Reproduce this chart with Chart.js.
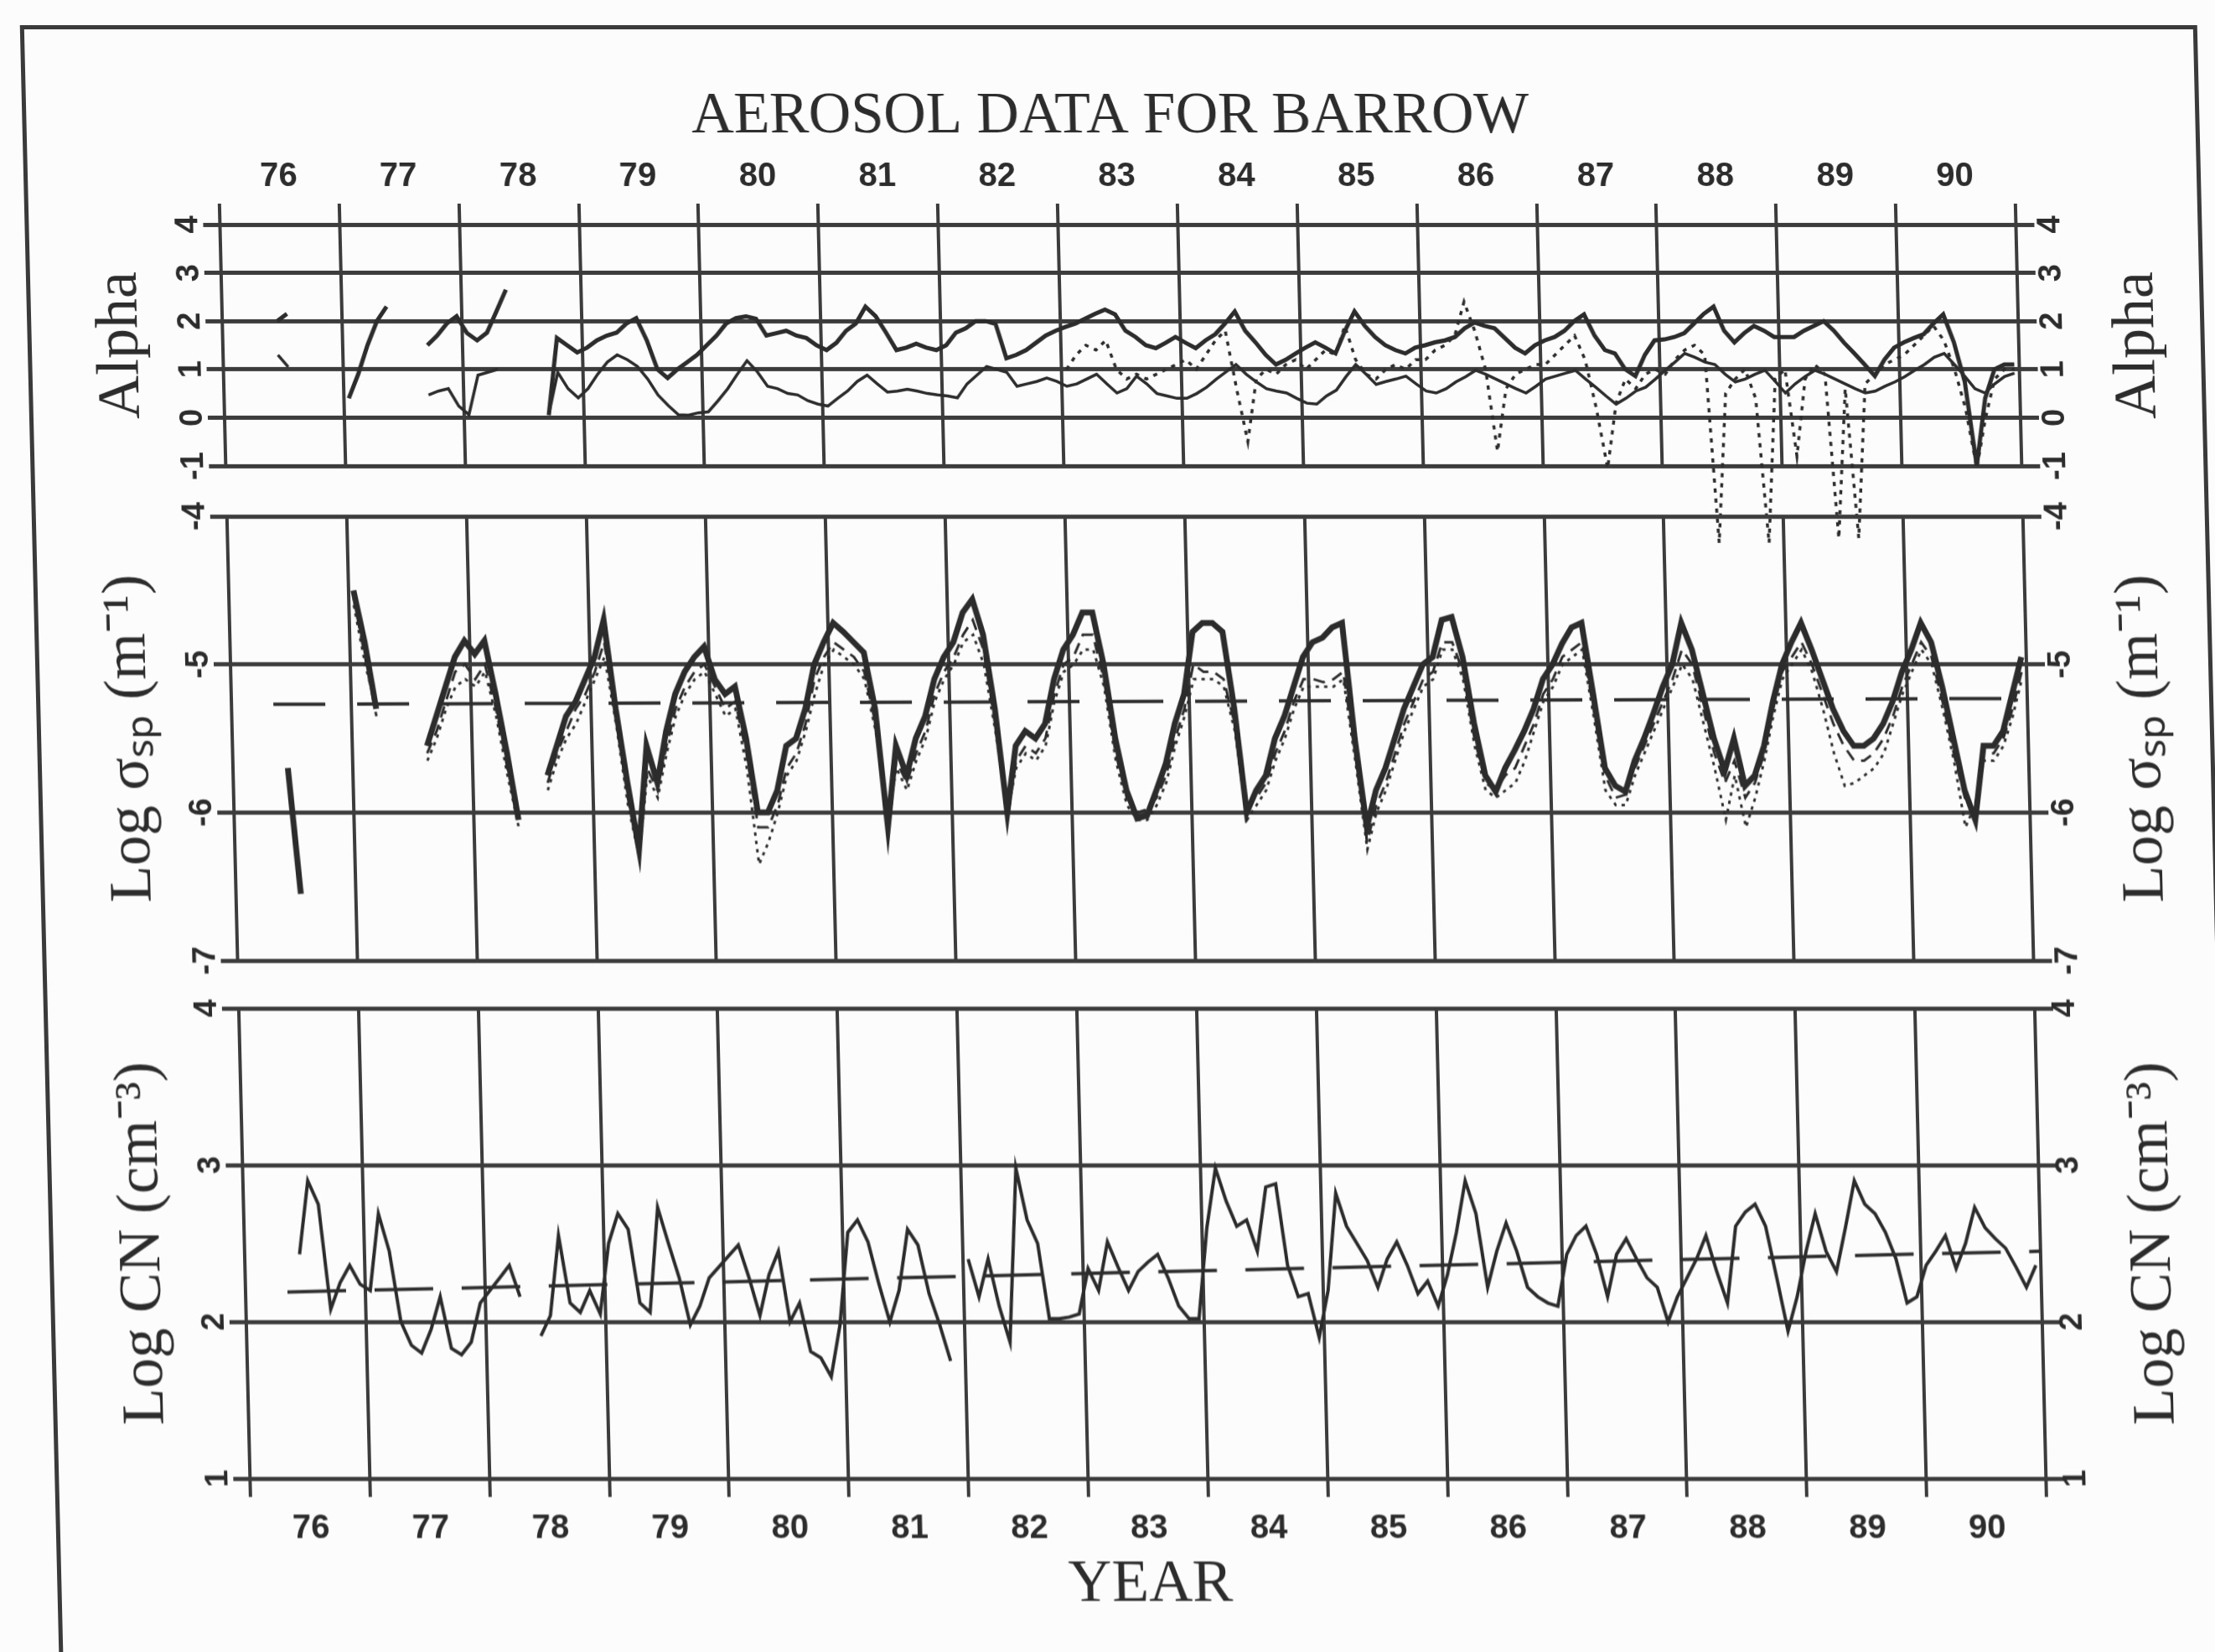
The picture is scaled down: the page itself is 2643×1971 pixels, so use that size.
<!DOCTYPE html>
<html><head><meta charset="utf-8">
<script src="https://cdn.jsdelivr.net/npm/chart.js@4.4.1/dist/chart.umd.min.js"></script>
<style>
html,body{margin:0;padding:0;background:#fcfcfc;width:2643px;height:1971px;overflow:hidden;}
#page{position:absolute;left:0;top:0;width:2643px;height:1971px;transform:skewX(1.375deg);transform-origin:0 0;}
#frame{position:absolute;left:23px;top:30px;width:2598px;height:2100px;border:5px solid #3a3a3a;box-sizing:border-box;}
canvas{position:absolute;left:0;}
</style></head><body>
<div id="page">
<div id="frame"></div>
<canvas id="cTop" width="2643" height="700" style="top:0px"></canvas>
<canvas id="cMid" width="2643" height="600" style="top:580px"></canvas>
<canvas id="cBot" width="2643" height="811" style="top:1160px"></canvas>
</div>
<script>
const n = null;
const yearStarts = [76,77,78,79,80,81,82,83,84,85,86,87,88,89,90,91];
const yearLabels = ['76','77','78','79','80','81','82','83','84','85','86','87','88','89','90'];

// Alpha (monthly, Jan 1976 .. Dec 1990)
const alphaUpper = [
 n,n,n,n,n,2.0,2.15,n,n,n,n,n,
 0.4,0.9,1.5,2.0,2.3,n,n,n,1.5,1.7,1.95,2.1,
 1.75,1.6,1.76,2.2,2.65,n,n,n,0.05,1.65,1.5,1.35,
 1.45,1.6,1.7,1.76,1.95,2.06,1.6,1.0,0.82,1.0,1.15,1.3,
 1.5,1.7,1.95,2.06,2.1,2.05,1.7,1.75,1.8,1.7,1.65,1.5,
 1.4,1.55,1.8,1.95,2.3,2.1,1.76,1.4,1.45,1.53,1.45,1.4,
 1.5,1.76,1.85,2.0,2.0,1.94,1.23,1.3,1.4,1.55,1.7,1.8,
 1.88,1.95,2.05,2.15,2.24,2.14,1.8,1.67,1.5,1.44,1.55,1.67,
 1.55,1.44,1.6,1.73,1.95,2.2,1.8,1.56,1.3,1.1,1.2,1.33,
 1.45,1.56,1.45,1.33,1.8,2.2,1.9,1.67,1.5,1.4,1.33,1.45,
 1.5,1.56,1.6,1.67,1.85,1.97,1.9,1.85,1.65,1.45,1.33,1.5,
 1.6,1.67,1.8,2.0,2.14,1.7,1.4,1.33,1.0,0.86,1.3,1.6,
 1.62,1.67,1.75,1.95,2.15,2.3,1.8,1.56,1.75,1.9,1.8,1.67,
 1.67,1.67,1.8,1.9,2.0,1.8,1.55,1.33,1.1,0.86,1.2,1.45,
 1.56,1.65,1.73,1.95,2.14,1.56,0.74,-1.0,0.4,1.0,1.1,1.1
];
const alphaLower = [
 n,n,n,n,n,1.3,1.05,n,n,n,n,n,
 n,n,n,n,n,n,n,n,0.47,0.55,0.6,0.24,
 0.06,0.88,0.94,1.0,n,n,n,n,0.06,0.94,0.6,0.41,
 0.6,0.9,1.15,1.3,1.2,1.06,0.8,0.47,0.25,0.06,0.05,0.1,
 0.12,0.35,0.6,0.9,1.18,0.95,0.65,0.6,0.5,0.47,0.35,0.28,
 0.24,0.4,0.55,0.75,0.88,0.7,0.53,0.55,0.59,0.55,0.5,0.47,
 0.45,0.41,0.7,0.88,1.06,1.0,0.94,0.65,0.7,0.75,0.82,0.75,
 0.65,0.7,0.8,0.9,0.7,0.51,0.6,0.86,0.7,0.5,0.45,0.4,
 0.4,0.5,0.63,0.8,0.95,1.1,0.9,0.74,0.6,0.55,0.51,0.4,
 0.3,0.28,0.45,0.57,0.85,1.1,0.9,0.69,0.75,0.8,0.86,0.7,
 0.55,0.51,0.6,0.74,0.85,0.98,0.9,0.8,0.7,0.6,0.51,0.65,
 0.8,0.86,0.92,0.98,0.8,0.63,0.45,0.28,0.4,0.55,0.63,0.8,
 0.98,1.15,1.33,1.25,1.15,1.1,0.9,0.74,0.8,0.9,0.98,0.75,
 0.51,0.7,0.85,0.98,0.9,0.8,0.7,0.6,0.51,0.55,0.65,0.74,
 0.85,0.98,1.1,1.25,1.33,1.1,0.86,0.6,0.51,0.7,0.85,0.92
];
const alphaDotted = [
 n,n,n,n,n,n,n,n,n,n,n,n,
 n,n,n,n,n,n,n,n,n,n,n,n,
 n,n,n,n,n,n,n,n,n,n,n,n,
 n,n,n,n,n,n,n,n,n,n,n,n,
 n,n,n,n,n,n,n,n,n,n,n,n,
 n,n,n,n,n,n,n,n,n,n,n,n,
 n,n,n,n,n,n,n,n,n,n,n,n,
 1.0,1.3,1.5,1.4,1.6,1.0,0.8,0.9,0.8,0.9,1.0,1.1,
 1.2,1.0,1.3,1.6,1.8,0.6,-0.5,0.8,1.0,0.9,1.1,1.2,
 1.0,1.2,1.4,1.3,1.9,1.2,0.9,0.8,1.0,1.1,1.0,1.2,
 1.2,1.4,1.5,1.7,2.4,1.8,1.0,-0.7,0.6,0.9,1.0,1.1,
 1.1,1.3,1.5,1.7,1.2,0.2,-1.05,0.3,0.8,0.6,0.9,1.0,
 0.9,1.2,1.4,1.5,1.3,-2.6,0.5,0.8,1.0,0.4,-2.6,0.8,
 1.0,-0.8,0.8,1.1,0.9,-2.5,0.6,-2.5,0.7,0.9,1.1,1.2,
 1.3,1.5,1.7,1.9,1.6,1.0,0.2,-1.05,0.0,0.8,1.0,1.0
];

// Log sigma_sp (monthly)
const sspSolid = [
 n,n,n,n,n,-5.70,-6.55,n,n,n,n,n,
 -4.50,-4.85,-5.30,n,n,n,n,-5.55,-5.35,-5.15,-4.95,-4.84,
 -4.93,-4.84,-5.20,-5.60,-6.05,n,n,-5.75,-5.55,-5.35,-5.25,-5.10,
 -4.95,-4.70,-5.30,-5.80,-6.25,-5.55,-5.80,-5.45,-5.20,-5.05,-4.95,-4.88,
 -5.10,-5.20,-5.15,-5.50,-6.00,-6.00,-5.85,-5.55,-5.50,-5.30,-5.00,-4.85,
 -4.72,-4.78,-4.85,-4.92,-5.30,-6.10,-5.55,-5.75,-5.50,-5.35,-5.10,-4.95,
 -4.85,-4.65,-4.56,-4.80,-5.30,-6.00,-5.55,-5.45,-5.50,-5.40,-5.10,-4.90,
 -4.80,-4.65,-4.65,-5.00,-5.50,-5.85,-6.04,-6.02,-5.85,-5.67,-5.40,-5.20,
 -4.78,-4.72,-4.72,-4.78,-5.30,-6.00,-5.85,-5.75,-5.50,-5.35,-5.15,-4.95,
 -4.85,-4.82,-4.75,-4.72,-5.50,-6.10,-5.85,-5.70,-5.50,-5.30,-5.15,-5.00,
 -4.95,-4.70,-4.68,-4.95,-5.40,-5.75,-5.86,-5.70,-5.58,-5.45,-5.30,-5.10,
 -5.00,-4.86,-4.75,-4.72,-5.20,-5.70,-5.82,-5.86,-5.65,-5.50,-5.33,-5.15,
 -5.00,-4.72,-4.90,-5.20,-5.50,-5.72,-5.50,-5.82,-5.75,-5.55,-5.25,-5.00,
 -4.85,-4.72,-4.90,-5.10,-5.30,-5.45,-5.55,-5.55,-5.50,-5.40,-5.25,-5.05,
 -4.90,-4.72,-4.85,-5.15,-5.50,-5.85,-6.05,-5.55,-5.55,-5.45,-5.20,-4.95
];
const sspDashed = [
 n,n,n,n,n,-5.75,-6.50,n,n,n,n,n,
 -4.55,-4.95,-5.35,n,n,n,n,-5.60,-5.45,-5.25,-5.05,-5.00,
 -5.10,-5.00,-5.30,-5.70,-6.00,n,n,-5.80,-5.60,-5.45,-5.30,-5.20,
 -5.05,-4.85,-5.35,-5.90,-6.30,-5.70,-5.85,-5.55,-5.30,-5.15,-5.05,-5.00,
 -5.15,-5.30,-5.25,-5.60,-6.10,-6.10,-5.95,-5.70,-5.60,-5.40,-5.10,-4.95,
 -4.85,-4.90,-4.95,-5.05,-5.40,-6.15,-5.65,-5.80,-5.60,-5.45,-5.20,-5.05,
 -4.95,-4.80,-4.70,-4.90,-5.40,-6.05,-5.65,-5.55,-5.60,-5.50,-5.20,-5.00,
 -4.95,-4.80,-4.80,-5.10,-5.60,-5.90,-6.00,-5.98,-5.90,-5.75,-5.50,-5.30,
 -5.00,-5.05,-5.05,-5.10,-5.40,-5.95,-5.90,-5.80,-5.60,-5.45,-5.25,-5.10,
 -5.10,-5.12,-5.10,-5.05,-5.60,-6.20,-5.95,-5.80,-5.60,-5.40,-5.25,-5.10,
 -5.05,-4.85,-4.85,-5.05,-5.50,-5.80,-5.85,-5.75,-5.70,-5.55,-5.40,-5.20,
 -5.10,-4.95,-4.90,-4.85,-5.30,-5.75,-5.90,-5.88,-5.70,-5.55,-5.40,-5.25,
 -5.10,-4.90,-5.00,-5.30,-5.60,-5.80,-5.65,-5.90,-5.80,-5.60,-5.30,-5.05,
 -4.95,-4.85,-5.00,-5.20,-5.40,-5.55,-5.65,-5.65,-5.60,-5.50,-5.35,-5.15,
 -5.00,-4.85,-4.95,-5.25,-5.60,-5.90,-6.00,-5.60,-5.60,-5.50,-5.30,-5.05
];
const sspDotted = [
 n,n,n,n,n,-5.80,-6.45,n,n,n,n,n,
 -4.60,-5.00,-5.30,n,n,n,n,-5.65,-5.50,-5.30,-5.15,-5.10,
 -5.15,-5.05,-5.35,-5.75,-6.10,n,n,-5.85,-5.65,-5.50,-5.40,-5.25,
 -5.10,-4.95,-5.40,-5.95,-6.30,-5.75,-5.90,-5.60,-5.35,-5.20,-5.10,-5.05,
 -5.20,-5.35,-5.30,-5.70,-6.35,-6.20,-6.00,-5.75,-5.65,-5.45,-5.20,-5.00,
 -4.90,-4.95,-5.00,-5.10,-5.45,-6.05,-5.70,-5.85,-5.65,-5.50,-5.25,-5.10,
 -5.00,-4.85,-4.80,-5.00,-5.45,-6.00,-5.70,-5.60,-5.65,-5.55,-5.25,-5.05,
 -5.00,-4.90,-4.90,-5.15,-5.65,-5.95,-6.05,-6.05,-5.95,-5.80,-5.55,-5.35,
 -5.10,-5.10,-5.10,-5.15,-5.45,-6.05,-5.95,-5.85,-5.65,-5.50,-5.30,-5.15,
 -5.15,-5.15,-5.15,-5.10,-5.65,-6.25,-6.00,-5.85,-5.65,-5.45,-5.30,-5.15,
 -5.10,-4.90,-4.90,-5.10,-5.55,-5.85,-5.90,-5.85,-5.80,-5.65,-5.45,-5.25,
 -5.15,-5.00,-4.95,-4.90,-5.35,-5.85,-5.95,-5.95,-5.75,-5.60,-5.45,-5.30,
 -5.15,-5.00,-5.10,-5.40,-5.70,-6.05,-5.75,-6.10,-5.90,-5.65,-5.35,-5.10,
 -5.00,-4.90,-5.05,-5.30,-5.60,-5.82,-5.80,-5.75,-5.70,-5.60,-5.40,-5.20,
 -5.05,-4.90,-5.00,-5.30,-5.65,-6.10,-5.95,-5.65,-5.65,-5.55,-5.35,-5.10
];
const sspMeanYears = [76.35, 90.95];
const sspMeanValues = [-5.27, -5.23];

// Log CN (monthly)
const cnSolid = [
 n,n,n,n,n,2.43,2.9,2.75,2.08,2.25,2.36,2.24,
 2.2,2.69,2.45,2.0,1.85,1.8,1.95,2.16,1.83,1.79,1.87,2.12,
 2.2,2.28,2.36,2.16,n,1.91,2.04,2.55,2.12,2.06,2.2,2.05,
 2.5,2.69,2.59,2.12,2.06,2.73,2.5,2.28,1.98,2.1,2.28,2.35,
 2.42,2.49,2.28,2.04,2.3,2.45,2.0,2.12,1.81,1.77,1.65,1.98,
 2.57,2.65,2.51,2.24,2.0,2.2,2.59,2.49,2.18,1.98,1.75,n,
 2.4,2.16,2.4,2.1,1.87,2.98,2.65,2.5,2.02,2.02,2.03,2.05,
 2.34,2.2,2.51,2.35,2.2,2.32,2.38,2.43,2.28,2.1,2.02,2.02,
 2.6,2.98,2.77,2.61,2.65,2.45,2.86,2.88,2.36,2.16,2.18,1.9,
 2.2,2.82,2.61,2.5,2.39,2.22,2.4,2.51,2.36,2.18,2.26,2.1,
 2.3,2.57,2.9,2.69,2.22,2.45,2.63,2.45,2.22,2.16,2.12,2.1,
 2.43,2.55,2.61,2.43,2.16,2.43,2.53,2.4,2.28,2.22,2.0,2.16,
 2.28,2.4,2.55,2.32,2.12,2.61,2.7,2.75,2.61,2.28,1.94,2.16,
 2.45,2.69,2.45,2.32,2.6,2.9,2.75,2.69,2.57,2.4,2.12,2.16,
 2.36,2.45,2.55,2.34,2.5,2.73,2.6,2.53,2.47,2.35,2.22,2.36
];
const cnTrendYears = [76.35, 91.0];
const cnTrendValues = [2.19, 2.45];

// ---------- rendering ----------
const W = 2643, PLOT_LEFT = 256, PLOT_RIGHT = 2399;
const INK = '#2c2c2c', GRID = '#3c3c3c';
const SERIF = '"Liberation Serif", "Times New Roman", serif';
const SANS = '"Liberation Sans", Arial, sans-serif';
Chart.defaults.font.family = SANS;
Chart.defaults.color = INK;

const monthX = i => yearStarts[0] + (i + 0.5) / 12;
const monthly = arr => arr.map((v, i) => ({x: monthX(i), y: v}));
const pairs = (xs, ys) => xs.map((x, i) => ({x, y: ys[i]}));
const halfYear = (PLOT_RIGHT - PLOT_LEFT) / (yearStarts.length - 1) / 2;

function line(data, width, dash, extra) {
  return Object.assign({data, borderColor: INK, borderWidth: width, borderDash: dash || [],
    pointRadius: 0, tension: 0, fill: false, spanGaps: false,
    xAxisID: 'x', yAxisID: 'y'}, extra || {});
}

function xScale(position, labels, tickLen, height, pad) {
  return {
    type: 'linear', position, min: yearStarts[0], max: yearStarts[yearStarts.length - 1],
    afterBuildTicks: s => { s.ticks = yearStarts.map(v => ({value: v})); },
    afterFit: s => { s.height = height; },
    grid: {color: GRID, lineWidth: 4, drawTicks: tickLen > 0, tickLength: tickLen},
    border: {display: false},
    ticks: {display: labels, autoSkip: false, maxRotation: 0, minRotation: 0, padding: pad,
      labelOffset: halfYear, font: {family: SANS, size: 40, weight: 'bold'}, color: INK,
      callback: (v, i) => yearLabels[i] || ''}
  };
}

function yScales(min, max, title, padL, padR) {
  const tickFont = {family: SANS, size: 38, weight: 'bold'};
  return {
    y: {type: 'linear', position: 'left', min, max,
      afterFit: s => { s.width = PLOT_LEFT; },
      grid: {color: GRID, lineWidth: 5, tickLength: 20},
      border: {display: false},
      ticks: {stepSize: 1, minRotation: 90, maxRotation: 90, crossAlign: 'center', padding: padL,
        font: tickFont, color: INK, callback: v => String(v)},
      title: {display: true, text: title, color: INK, font: {family: SERIF, size: 72, weight: 'normal'},
        padding: {top: 92, bottom: 0}}
    },
    yR: {type: 'linear', position: 'right', min, max,
      afterFit: s => { s.width = W - PLOT_RIGHT; },
      grid: {drawOnChartArea: false, color: GRID, lineWidth: 5, tickLength: 22},
      border: {display: false},
      ticks: {stepSize: 1, minRotation: 90, maxRotation: 90, crossAlign: 'center', padding: padR,
        font: tickFont, color: INK, callback: v => String(v)}
    }
  };
}

const rightTitle = {
  id: 'rightTitle',
  afterDraw(chart, args, opts) {
    const {ctx, chartArea} = chart;
    ctx.save();
    ctx.translate(opts.x, (chartArea.top + chartArea.bottom) / 2);
    ctx.rotate(-Math.PI / 2);
    ctx.font = 'normal 72px ' + SERIF;
    ctx.fillStyle = INK;
    ctx.textAlign = 'center';
    ctx.textBaseline = 'middle';
    ctx.fillText(opts.text, 0, 0);
    ctx.restore();
  }
};

function base(layoutPad, scales, plugins) {
  return {
    responsive: false, animation: false, devicePixelRatio: 1,
    layout: {padding: layoutPad},
    scales,
    plugins: Object.assign({legend: {display: false}, tooltip: {enabled: false}, title: {display: false}}, plugins)
  };
}

// Top: Alpha
new Chart(document.getElementById('cTop'), {
  type: 'line',
  data: {datasets: [
    line(monthly(alphaUpper), 5),
    line(monthly(alphaLower), 3.5),
    line(monthly(alphaDotted), 3.5, [5, 7], {clip: false})
  ]},
  options: base({top: 0, left: 0, right: 0, bottom: 144},
    Object.assign({x: xScale('top', true, 25, 78, 8)}, yScales(-1, 4, 'Alpha', 1, 3)),
    {title: {display: true, text: 'AEROSOL DATA FOR BARROW', color: INK,
      font: {family: SERIF, size: 70, weight: 'normal'}, padding: {top: 98, bottom: 8}},
     rightTitle: {text: 'Alpha', x: 2541}}),
  plugins: [rightTitle]
});

// Middle: Log sigma_sp
new Chart(document.getElementById('cMid'), {
  type: 'line',
  data: {datasets: [
    line(monthly(sspSolid), 7),
    line(monthly(sspDashed), 3, [14, 9]),
    line(monthly(sspDotted), 3, [4, 6]),
    line(pairs(sspMeanYears, sspMeanValues), 4, [62, 38])
  ]},
  options: base({top: 36, left: 0, right: 0, bottom: 34},
    Object.assign({x: xScale('bottom', false, 0, 0, 0)}, yScales(-7, -4, 'Log σₛₚ (m⁻¹)', 1, 3)),
    {rightTitle: {text: 'Log σₛₚ (m⁻¹)', x: 2536}}),
  plugins: [rightTitle]
});

// Bottom: Log CN
const botX = xScale('bottom', true, 22, 200, 14);
botX.title = {display: true, text: 'YEAR', color: INK, font: {family: SERIF, size: 72, weight: 'normal'},
  padding: {top: 0, bottom: 30}};
new Chart(document.getElementById('cBot'), {
  type: 'line',
  data: {datasets: [
    line(monthly(cnSolid), 4),
    line(pairs(cnTrendYears, cnTrendValues), 4, [70, 34])
  ]},
  options: base({top: 43, left: 0, right: 0, bottom: 7},
    Object.assign({x: botX}, yScales(1, 4, 'Log CN (cm⁻³)', 7, 4)),
    {rightTitle: {text: 'Log CN (cm⁻³)', x: 2534}}),
  plugins: [rightTitle]
});
</script>
</body></html>
